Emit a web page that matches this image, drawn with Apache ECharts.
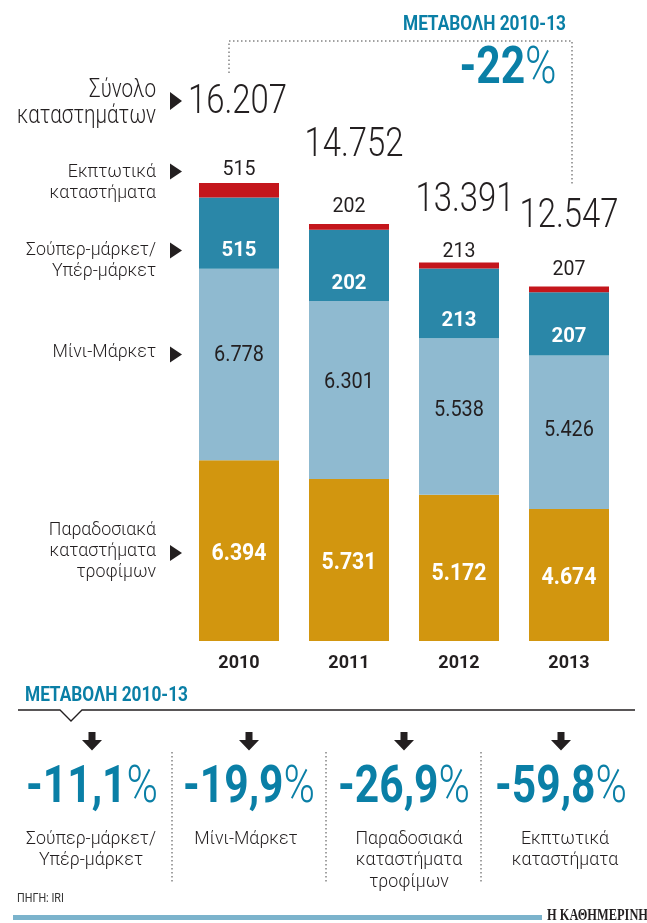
<!DOCTYPE html>
<html><head><meta charset="utf-8">
<script src="https://cdn.jsdelivr.net/npm/echarts@6/dist/echarts.min.js"></script>
<style>html,body{margin:0;padding:0;background:#fff}#c{width:647px;height:923px}</style>
</head><body><div id="c"></div>
<script>
// ---- data ----
const years = ['2010', '2011', '2012', '2013'];
const traditional = [6394, 5731, 5172, 4674];      // Παραδοσιακά καταστήματα τροφίμων
const mini = [6778, 6301, 5538, 5426];             // Μίνι-Μάρκετ
const superMarket = [2520, 2518, 2468, 2240];      // Σούπερ-μάρκετ/Υπέρ-μάρκετ (segment heights)
const superLabels = ['515', '202', '213', '207'];  // labels printed in that segment
const discount = [515, 202, 213, 207];             // Εκπτωτικά καταστήματα
const totals = [16207, 14752, 13391, 12547];       // Σύνολο καταστημάτων
const totalChange = '-22';
const changeVals = ['-11,1', '-19,9', '-26,9', '-59,8'];
const changeCats = ['Σούπερ-μάρκετ/\nΥπέρ-μάρκετ', 'Μίνι-Μάρκετ', 'Παραδοσιακά\nκαταστήματα\nτροφίμων', 'Εκπτωτικά\nκαταστήματα'];
const leftLabels = ['Εκπτωτικά\nκαταστήματα', 'Σούπερ-μάρκετ/\nΥπέρ-μάρκετ', 'Μίνι-Μάρκετ', 'Παραδοσιακά\nκαταστήματα\nτροφίμων'];
const changeTitle = 'ΜΕΤΑΒΟΛΗ 2010-13';
const totalTitle = 'Σύνολο\nκαταστημάτων';
const source = 'ΠΗΓΗ: IRI';
const brand = 'Η ΚΑΘΗΜΕΡΙΝΗ';

// ---- layout / style ----
const SANS = "Roboto,'Liberation Sans',sans-serif";
const DARK = '#231f20';
const TEAL = '#0a7fa6';
const fmt = v => String(v).replace(/\B(?=(\d{3})+(?!\d))/g, '.');

const ctx = document.createElement('canvas').getContext('2d');
function measure(text, size, weight, family) {
  ctx.font = (weight || 'normal') + ' ' + size + 'px ' + (family || SANS);
  return Math.max.apply(null, text.split('\n').map(l => ctx.measureText(l).width));
}
function scaleFor(ref, target, size, weight, family) { return target / measure(ref, size, weight, family); }

// label groups: font size (cap-height based) and horizontal condensation
const G = {
  total: { size: 41, weight: 300 },
  disc: { size: 21, weight: 'normal' },
  sup: { size: 21, weight: 'bold' },
  mini: { size: 22, weight: 'normal' },
  trad: { size: 23, weight: 'bold' },
  cat: { size: 19, weight: 300 },
  head: { size: 25, weight: 300 },
  title: { size: 21, weight: 'bold' },
  pct: { size: 51 }
};
G.total.sx = scaleFor('16.207', 99, G.total.size, G.total.weight);
G.disc.sx = scaleFor('202', 33, G.disc.size, G.disc.weight);
G.sup.sx = scaleFor('202', 35, G.sup.size, G.sup.weight);
G.mini.sx = scaleFor('6.778', 50, G.mini.size, G.mini.weight);
G.trad.sx = scaleFor('6.394', 55, G.trad.size, G.trad.weight);
G.cat.sx = scaleFor('Σούπερ-μάρκετ/', 130, G.cat.size, G.cat.weight);
G.head.sx = scaleFor('καταστημάτων', 139, G.head.size, G.head.weight);
G.title.sx = scaleFor(changeTitle, 163, G.title.size, G.title.weight);
G.pct.sx = 132 / (measure('-26,9', G.pct.size, 'bold') + measure('%', G.pct.size, 300));

const miniOffsets = [-9, -7.5, -6.5, -2];
const tradOffsets = [3.5, 3.5, 6, 3.5];
const discAbove = [13.5, 17, 11, 16.5];
const supAbove = [18, 17.5, 18, 18.5];
const totalOffsets = [[-1.5, -80], [5, -78], [6, -62], [0, -70]];

const leftY = [182.5, 260.3, 352.5, 550.8];
const arrowY = [171.5, 250.5, 354.5, 553];
const colX = [92, 249, 404, 561];
const catX = [91, 246, 409, 565];

const graphic = [];
function txt(x, y, text, g, style) {
  graphic.push({ type: 'text', x: x, y: y, scaleX: g.sx || 1, silent: true, z: 10,
    style: Object.assign({ text: text, fill: DARK, fontFamily: SANS, fontSize: g.size, fontWeight: g.weight,
      textAlign: 'center', textVerticalAlign: 'middle' }, style || {}) });
}
function tri(cx, cy, w, h) {
  graphic.push({ type: 'polygon', silent: true,
    shape: { points: [[cx - w / 2, cy - h / 2], [cx + w / 2, cy], [cx - w / 2, cy + h / 2]] },
    style: { fill: DARK } });
}
function pct(x, y, v) {
  txt(x, y, '{a|' + v + '}{b|%}', G.pct, {
    rich: { a: { fontSize: G.pct.size, fontWeight: 'bold', fill: TEAL, fontFamily: SANS },
            b: { fontSize: G.pct.size, fontWeight: 300, fill: TEAL, fontFamily: SANS } } });
}

// top change header
txt(566, 25, changeTitle, G.title, { fill: TEAL, textAlign: 'right' });
pct(508, 70, totalChange);
graphic.push({ type: 'polyline', silent: true,
  shape: { points: [[229, 73], [229, 41], [572, 41], [572, 185]] },
  style: { stroke: '#444', lineWidth: 1, lineDash: [1.5, 2.5], fill: null } });
// left labels
txt(156, 104, totalTitle, G.head, { lineHeight: 26, textAlign: 'right' });
tri(176, 101, 12, 18);
leftLabels.forEach((t, i) => {
  txt(156, leftY[i], t, G.cat, { lineHeight: 21, textAlign: 'right' });
  tri(176, arrowY[i], 12, 16);
});
// bottom section
txt(25, 695.5, changeTitle, G.title, { fill: TEAL, textAlign: 'left' });
graphic.push({ type: 'polyline', silent: true,
  shape: { points: [[18, 710], [60, 710], [71, 721], [82, 710], [635, 710]] },
  style: { stroke: DARK, lineWidth: 1.3, fill: null } });
colX.forEach((x, i) => {
  graphic.push({ type: 'polygon', silent: true,
    shape: { points: [[x - 3.5, 732], [x + 3.5, 732], [x + 3.5, 740], [x + 10, 740], [x, 750.5], [x - 10, 740], [x - 3.5, 740]] },
    style: { fill: DARK } });
  pct(x, 789, changeVals[i]);
  txt(catX[i], 828, changeCats[i], G.cat, { lineHeight: 21.5, textVerticalAlign: 'top' });
});
[172, 326, 481].forEach(x => {
  graphic.push({ type: 'line', silent: true, shape: { x1: x, y1: 752, x2: x, y2: 884 },
    style: { stroke: '#444', lineWidth: 1, lineDash: [1.5, 2.5] } });
});
txt(17, 899, source, { size: 12, weight: 'normal', sx: 0.9 }, { textAlign: 'left', fill: '#333' });
graphic.push({ type: 'rect', silent: true, shape: { x: 13, y: 915, width: 529, height: 5 }, style: { fill: '#7bb3cc' } });
txt(547, 916, brand, { size: 17, weight: 'bold', sx: scaleFor(brand, 101, 17, 'bold', "'Liberation Serif',serif") },
  { fontFamily: "'Liberation Serif',serif", textAlign: 'left' });

const chart = echarts.init(document.getElementById('c'), null, { renderer: 'canvas' });
chart.setOption({
  animation: false,
  backgroundColor: '#ffffff',
  grid: { left: 184, top: 132.3, width: 440, height: 508.7 },
  xAxis: {
    type: 'category', data: years,
    axisLine: { show: false }, axisTick: { show: false },
    axisLabel: { margin: 13, fontSize: 18, fontWeight: 'bold', color: DARK, fontFamily: SANS }
  },
  yAxis: { type: 'value', min: 0, max: 18000, show: false, splitLine: { show: false } },
  series: [
    { type: 'bar', stack: 's', data: traditional, barWidth: 80, itemStyle: { color: '#d2960f' } },
    { type: 'bar', stack: 's', data: mini, barWidth: 80, itemStyle: { color: '#8fbad0' } },
    { type: 'bar', stack: 's', data: superMarket, barWidth: 80, itemStyle: { color: '#2a87a8' } },
    { type: 'bar', stack: 's', data: discount, barWidth: 80, itemStyle: { color: '#c4161c' } }
  ]
});

// value labels placed through the chart's own scales
const px = (i, v) => chart.convertToPixel({ xAxisIndex: 0, yAxisIndex: 0 }, [i, v]);
years.forEach((y, i) => {
  const c1 = traditional[i], c2 = c1 + mini[i], c3 = c2 + superMarket[i], c4 = c3 + discount[i];
  const p0 = px(i, 0), p1 = px(i, c1), p2 = px(i, c2), p4 = px(i, c4), pt = px(i, totals[i]);
  const x = p0[0];
  txt(x, (p0[1] + p1[1]) / 2 + tradOffsets[i], fmt(traditional[i]), G.trad, { fill: '#fff' });
  txt(x, (p1[1] + p2[1]) / 2 + miniOffsets[i], fmt(mini[i]), G.mini);
  txt(x, p2[1] - supAbove[i], superLabels[i], G.sup, { fill: '#fff' });
  txt(x, p4[1] - discAbove[i], fmt(discount[i]), G.disc);
  txt(x + totalOffsets[i][0], pt[1] + totalOffsets[i][1], fmt(totals[i]), G.total);
});
chart.setOption({ graphic: { elements: graphic } });
</script>
</body></html>
